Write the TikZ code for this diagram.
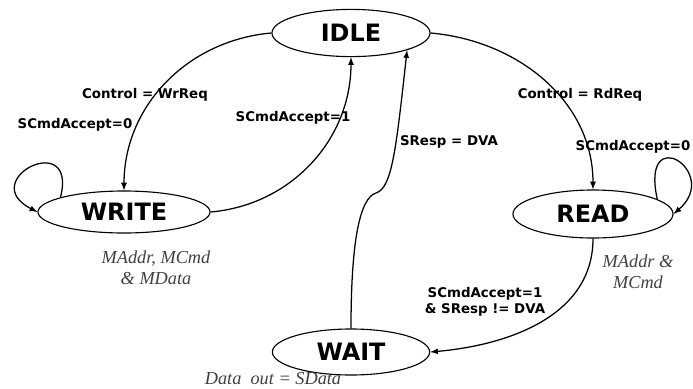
\documentclass[tikz,border=0pt]{standalone}
\usepackage{fontspec}
\setmainfont{Liberation Serif}
\setsansfont{DejaVu Sans}
\usepackage{tikz}
\usetikzlibrary{arrows,shapes}

\begin{document}
\begin{tikzpicture}[x=0.025cm, y=-0.025cm,
    state/.style={ellipse, draw=black, line width=0.8pt, inner sep=0pt, font=\sffamily\bfseries\fontsize{17}{20}\selectfont},
    cond/.style={font=\sffamily\bfseries\fontsize{9.5}{11}\selectfont, align=center, inner sep=0pt},
    outp/.style={font=\itshape\fontsize{13}{15}\selectfont, align=center, inner sep=0pt, text=black!75},
    every path/.style={line width=0.9pt}]
      \useasboundingbox (0,0) rectangle (693,389);
      \node[state, minimum width=3.95cm, minimum height=1.18cm] (idle) at (351,33) {IDLE};
      \node[state, minimum width=4.3cm, minimum height=1.05cm] (write) at (124,212) {WRITE};
      \node[state, minimum width=4cm, minimum height=1.2cm] (read) at (593,214) {READ};
      \node[state, minimum width=3.93cm, minimum height=1.15cm] (wait) at (351,352) {WAIT};
      \draw[-latex] (idle.west) to[out=185,in=90] (write.north);
      \draw[-latex] (write.east) to[out=5,in=-90] (idle.south);
      \draw[-latex] (idle.east) to[out=-5,in=90] (read.north);
      \draw[-latex] (read.south) to[out=-90,in=5] (wait.east);
      \draw[-latex] (wait.north) .. controls (351,240) and (360,198) .. (376,193) .. controls (392,188) and (396,150) .. (idle.-17);
      \draw[-latex] (write.167) .. controls (78,128) and (-25,180) .. (write.west);
      \draw[-latex] (read.13) .. controls (640,120) and (722,172) .. (read.east);
      \node[cond] (wrreq) at (145,95) {Control = WrReq};
      \node[cond] (wacc) at (293,118) {SCmdAccept=1};
      \node[cond] (wwait) at (75,125) {SCmdAccept=0};
      \node[cond] (rdreq) at (580,95) {Control = RdReq};
      \node[cond] (dva) at (449,142) {SResp = DVA};
      \node[cond] (rwait) at (633,147) {SCmdAccept=0};
      \node[cond] (racc) at (485,302) {SCmdAccept=1\\ \& SResp != DVA};
      \node[outp] (wout) at (156,268) {MAddr, MCmd\\ \& MData};
      \node[outp] (rout) at (638,272) {MAddr \&\\ MCmd};
      \node[outp] (dout) at (273,379) {Data\enspace out = SData};
    \end{tikzpicture}
\end{document}
